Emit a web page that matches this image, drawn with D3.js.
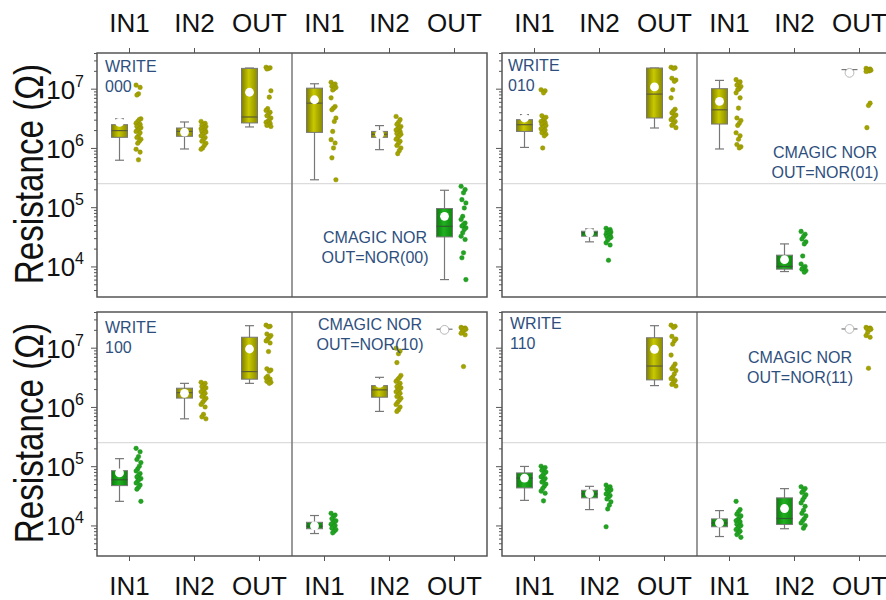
<!DOCTYPE html>
<html><head><meta charset="utf-8">
<script src="https://cdn.jsdelivr.net/npm/d3@7"></script>
<style>body{margin:0;background:#fff}svg{display:block}</style>
</head><body>
<svg id="c" width="886" height="600"></svg>
<script>
// ---------------- DATA ----------------
const categories = ["IN1", "IN2", "OUT"];
const threshold = 2.5e5;
const writeLabels = ["000", "010", "100", "110"];
const norLabels = ["00", "01", "10", "11"];
const yTicksMajor = [1e4, 1e5, 1e6, 1e7];
// box stats per category: [whiskerLow, q1, median, q3, whiskerHigh, mean]
const boxW000 = [[6.2e5,1.51e6,1.96e6,2.47e6,3.1e6,2.7e6],[9.6e5,1.57e6,1.9e6,2.17e6,2.74e6,1.85e6],[2.26e6,2.64e6,3.33e6,2.2e7,2.23e7,8.7e6]];
const boxN00  = [[2.9e5,1.83e6,5.7e6,1.02e7,1.21e7,6.5e6],[9.35e5,1.51e6,1.7e6,1.9e6,2.38e6,1.7e6],[6.0e3,3.15e4,4.75e4,9.5e4,1.93e5,7.0e4]];
const boxW010 = [[1.02e6,1.9e6,2.47e6,3.0e6,3.65e6,3.2e6],[2.6e4,3.24e4,3.7e4,3.93e4,4.3e4,3.7e4],[2.17e6,3.2e6,8.1e6,2.23e7,2.23e7,1.07e7]];
const boxN01  = [[9.6e5,2.53e6,4.4e6,1.0e7,1.38e7,6.1e6],[8.2e3,9.0e3,1.0e4,1.55e4,2.4e4,1.3e4],[2.1e7,2.1e7,2.1e7,2.1e7,2.1e7,1.85e7]];
const boxW100 = [[2.55e4,4.7e4,5.9e4,8.4e4,1.34e5,7.7e4],[6.3e5,1.41e6,1.74e6,2.07e6,2.5e6,1.7e6],[2.5e6,2.94e6,3.95e6,1.5e7,2.35e7,9.5e6]];
const boxN10  = [[7.3e3,8.8e3,9.7e3,1.13e4,1.47e4,9.8e3],[8.4e5,1.46e6,1.94e6,2.29e6,3.16e6,2.5e6],[2.05e7,2.05e7,2.05e7,2.05e7,2.05e7,2.0e7]];
const boxW110 = [[2.65e4,4.3e4,6.3e4,7.7e4,9.9e4,6.3e4],[1.85e4,2.92e4,3.4e4,3.92e4,4.57e4,3.44e4],[2.29e6,2.86e6,4.9e6,1.47e7,2.35e7,9.4e6]];
const boxN11  = [[6.5e3,9.5e3,1.1e4,1.29e4,1.78e4,1.1e4],[8.8e3,1.04e4,1.31e4,2.92e4,4.18e4,1.93e4],[2.07e7,2.07e7,2.07e7,2.07e7,2.07e7,2.07e7]];
// individual measurements per category
const ptsW000 = [
 [1.15e7,1.05e7,8.2e6,7.8e6,3.1e6,3.0e6,2.8e6,2.6e6,2.5e6,2.4e6,2.3e6,2.2e6,2.1e6,2.0e6,1.9e6,1.8e6,1.6e6,1.5e6,1.4e6,1.3e6,1.2e6,9.5e5,8.5e5,6.3e5],
 [2.8e6,2.6e6,2.5e6,2.4e6,2.3e6,2.2e6,2.15e6,2.1e6,2.0e6,1.95e6,1.9e6,1.85e6,1.8e6,1.7e6,1.6e6,1.5e6,1.4e6,1.3e6,1.2e6,1.1e6,1.0e6,9.5e5],
 [2.3e7,2.25e7,2.2e7,2.15e7,9.2e6,7.2e6,4.6e6,4.3e6,4.0e6,3.7e6,3.5e6,3.2e6,3.0e6,2.8e6,2.7e6,2.6e6,2.5e6,2.4e6,2.3e6]];
const ptsN00 = [
 [1.28e7,1.2e7,1.15e7,1.1e7,1.05e7,1.0e7,9.5e6,7.0e6,5.0e6,4.7e6,4.4e6,3.2e6,2.8e6,1.9e6,1.38e6,1.21e6,1.0e6,6.8e5,2.9e5],
 [3.4e6,3.0e6,2.7e6,2.5e6,2.3e6,2.2e6,2.1e6,2.0e6,1.9e6,1.8e6,1.75e6,1.7e6,1.6e6,1.5e6,1.4e6,1.3e6,1.2e6,1.1e6,1.0e6,9e5,8e5],
 [2.25e5,1.98e5,1.75e5,1.34e5,1.18e5,9.7e4,7.0e4,6.2e4,5.4e4,5.1e4,4.8e4,4.5e4,4.2e4,3.7e4,3.24e4,2.85e4,1.7e4,1.4e4,6.0e3]];
const ptsW010 = [
 [9.6e6,9.2e6,8.5e6,3.5e6,3.3e6,3.1e6,2.9e6,2.8e6,2.7e6,2.6e6,2.5e6,2.4e6,2.3e6,2.2e6,2.1e6,2.0e6,1.9e6,1.8e6,1.7e6,1.6e6,1.0e6],
 [4.4e4,4.2e4,4.0e4,3.9e4,3.8e4,3.7e4,3.6e4,3.5e4,3.4e4,3.3e4,3.2e4,3.1e4,3.0e4,2.8e4,2.5e4,2.3e4,1.27e4],
 [2.3e7,2.25e7,2.2e7,1.5e7,1.4e7,1.33e7,9.6e6,7.0e6,4.5e6,4.2e6,3.9e6,3.6e6,3.4e6,3.2e6,3.0e6,2.8e6,2.6e6,2.4e6,2.2e6]];
const ptsN01 = [
 [1.42e7,1.3e7,1.25e7,1.15e7,1.09e7,1.0e7,9.6e6,8.5e6,7.0e6,4.7e6,3.2e6,2.9e6,2.6e6,2.4e6,1.8e6,1.6e6,1.4e6,1.14e6,1.05e6,1.0e6],
 [3.9e4,3.5e4,3.2e4,2.9e4,2.6e4,2.4e4,1.5e4,1.1e4,1.0e4,9.5e3,9.0e3,8.5e3,8.0e3],
 [2.2e7,2.15e7,2.1e7,2.1e7,2.05e7,2.0e7,2.0e7,1.95e7,5.7e6,5.2e6,2.2e6]];
const ptsW100 = [
 [2.0e5,1.75e5,1.45e5,1.3e5,1.15e5,1.0e5,9e4,8.3e4,7.5e4,7.0e4,6.6e4,6.2e4,6.0e4,5.6e4,5.2e4,4.8e4,4.4e4,4.1e4,2.55e4],
 [2.6e6,2.5e6,2.3e6,2.2e6,2.1e6,2.0e6,1.9e6,1.8e6,1.7e6,1.6e6,1.5e6,1.4e6,1.3e6,1.2e6,1.1e6,1.0e6,7.5e5,6.8e5,6.3e5],
 [2.4e7,2.3e7,2.25e7,1.7e7,1.6e7,1.5e7,1.4e7,1.3e7,1.2e7,8.6e6,4.4e6,4.2e6,4.0e6,3.3e6,3.1e6,2.95e6,2.8e6,2.7e6,2.6e6,2.5e6]];
const ptsN10 = [
 [1.6e4,1.5e4,1.4e4,1.3e4,1.2e4,1.15e4,1.1e4,1.05e4,1.0e4,9.5e3,9.0e3,8.5e3,8.0e3,7.5e3],
 [9.8e6,8.8e6,7.9e6,5.6e6,3.4e6,3.1e6,2.9e6,2.7e6,2.5e6,2.3e6,2.2e6,2.1e6,2.0e6,1.9e6,1.8e6,1.7e6,1.6e6,1.5e6,1.4e6,1.3e6,1.2e6,1.1e6,1.0e6,9.0e5,8.4e5],
 [2.2e7,2.15e7,2.1e7,2.1e7,2.05e7,2.0e7,1.9e7,1.75e7,1.65e7,4.8e6]];
const ptsW110 = [
 [1.0e5,9.5e4,9.0e4,8.5e4,8.0e4,7.5e4,7.0e4,6.6e4,6.2e4,5.8e4,5.4e4,5.0e4,4.6e4,4.2e4,3.8e4,3.5e4,2.6e4],
 [4.8e4,4.5e4,4.3e4,4.1e4,4.0e4,3.8e4,3.6e4,3.4e4,3.2e4,3.0e4,2.8e4,2.5e4,2.2e4,1.9e4,9.5e3],
 [2.4e7,2.3e7,2.2e7,1.55e7,1.4e7,1.3e7,1.15e7,7.5e6,5.3e6,4.8e6,4.4e6,4.1e6,3.6e6,3.2e6,3.0e6,2.8e6,2.6e6,2.4e6,2.25e6]];
const ptsN11 = [
 [2.55e4,1.85e4,1.7e4,1.55e4,1.45e4,1.35e4,1.25e4,1.2e4,1.15e4,1.1e4,1.05e4,1.0e4,9.5e3,9.0e3,8.5e3,8.0e3,7.5e3,7.0e3,6.3e3],
 [4.5e4,4.2e4,3.9e4,3.6e4,3.3e4,3.0e4,2.7e4,2.4e4,2.1e4,1.8e4,1.6e4,1.45e4,1.3e4,1.2e4,1.1e4,1.0e4,9.0e3],
 [2.2e7,2.15e7,2.1e7,2.1e7,2.05e7,2.0e7,1.8e7,1.6e7,1.5e7,4.5e6]];

// ---------------- LAYOUT ----------------
const W = 886, H = 600;
const subW = 195, grpH = 244;
const groups = [
  {x: 97,  y: 53,  row: 0, left: true,  write: 0, boxes: [boxW000, boxN00], pts: [ptsW000, ptsN00],
   ann: [{x: 8, y: 19, a: "start"}, {x: 278, y: 190, a: "middle"}]},
  {x: 502, y: 53,  row: 0, left: false, write: 1, boxes: [boxW010, boxN01], pts: [ptsW010, ptsN01],
   ann: [{x: 6, y: 18, a: "start"}, {x: 323, y: 105, a: "middle"}]},
  {x: 97,  y: 312, row: 1, left: true,  write: 2, boxes: [boxW100, boxN10], pts: [ptsW100, ptsN10],
   ann: [{x: 8, y: 21, a: "start"}, {x: 273, y: 18, a: "middle"}]},
  {x: 502, y: 312, row: 1, left: false, write: 3, boxes: [boxW110, boxN11], pts: [ptsW110, ptsN11],
   ann: [{x: 8, y: 17, a: "start"}, {x: 298, y: 51, a: "middle"}]}
];
const FONT = "'Liberation Sans', Arial, Helvetica, sans-serif";
const olive = {fill: "url(#gOlive)", dot: "#a3a300", dotStroke: "#8a8a00", med: "#5e5e30"};
const green = {fill: "url(#gGreen)", dot: "#22a322", dotStroke: "#168a16", med: "#2e5e2e"};

const svg = d3.select("#c");
svg.append("rect").attr("width", W).attr("height", H).attr("fill", "#fff");
const defs = svg.append("defs");
function grad(id, stops) {
  const g = defs.append("linearGradient").attr("id", id).attr("x1", "0%").attr("x2", "100%").attr("y1", "0%").attr("y2", "0%");
  stops.forEach(s => g.append("stop").attr("offset", s[0]).attr("stop-color", s[1]));
}
grad("gOlive", [["0%", "#7e7e00"], ["45%", "#c9c900"], ["100%", "#898900"]]);
grad("gGreen", [["0%", "#0a7f0a"], ["45%", "#21b021"], ["100%", "#0d880d"]]);

const y = d3.scaleLog().domain([3.05e3, 4.0e7]).range([grpH, 0]);
const x = d3.scaleBand().domain(categories).range([0, subW]).padding(0);
const allTicks = y.ticks();
const minorTicks = allTicks.filter(v => !yTicksMajor.includes(v));

groups.forEach(g => {
  const G = svg.append("g").attr("transform", `translate(${g.x},${g.y})`);
  // threshold line
  G.append("line").attr("x1", 0).attr("x2", 2 * subW).attr("y1", y(threshold)).attr("y2", y(threshold))
    .attr("stroke", "#dcdcdc").attr("stroke-width", 1.3);

  // y axis ticks (outward)
  const minorAx = G.append("g").call(d3.axisLeft(y).tickValues(minorTicks).tickSize(3).tickFormat(""));
  const majorAx = G.append("g").call(d3.axisLeft(y).tickValues(yTicksMajor).tickSize(6).tickFormat(""));
  [minorAx, majorAx].forEach(a => { a.select(".domain").remove(); a.selectAll("line").attr("stroke", "#555"); });
  if (g.left) {
    yTicksMajor.forEach(v => {
      const t = G.append("text").attr("x", -13).attr("y", y(v) + 10).attr("text-anchor", "end")
        .attr("font-family", FONT).attr("font-size", 26).attr("fill", "#111");
      t.append("tspan").text("10");
      t.append("tspan").attr("dy", -12).attr("font-size", 16).text(String(Math.round(Math.log10(v))));
    });
  }

  for (let s = 0; s < 2; s++) {
    const S = G.append("g").attr("transform", `translate(${s * subW},0)`);
    // x axis ticks & labels
    const xAx = g.row === 0 ? d3.axisTop(x).tickSize(5) : d3.axisBottom(x).tickSize(5);
    const ax = S.append("g").attr("transform", g.row === 0 ? "translate(0,0)" : `translate(0,${grpH})`)
      .call(xAx.tickFormat(""));
    ax.select(".domain").remove();
    ax.selectAll("line").attr("stroke", "#555");
    categories.forEach(c => {
      S.append("text").attr("x", x(c) + x.bandwidth() / 2)
        .attr("y", g.row === 0 ? 32 - g.y : grpH + 595 - (g.y + grpH))
        .attr("text-anchor", "middle").attr("font-family", FONT).attr("font-size", 26).attr("fill", "#111").text(c);
    });

    const boxes = g.boxes[s], pts = g.pts[s];
    categories.forEach((c, ci) => {
      const tick = x(c) + x.bandwidth() / 2;
      const bx = tick - 10, px = tick + 9;
      const [lo, q1, med, q3, hi, mean] = boxes[ci];
      const col = med > threshold ? olive : green;
      // whiskers
      S.append("line").attr("x1", bx).attr("x2", bx).attr("y1", y(hi)).attr("y2", y(lo)).attr("stroke", "#777").attr("stroke-width", 1.2);
      [hi, lo].forEach(v => S.append("line").attr("x1", bx - 4.5).attr("x2", bx + 4.5).attr("y1", y(v)).attr("y2", y(v))
        .attr("stroke", "#777").attr("stroke-width", 1.2));
      // box
      S.append("rect").attr("x", bx - 8).attr("width", 16).attr("y", y(q3)).attr("height", Math.max(0, y(q1) - y(q3)))
        .attr("fill", col.fill).attr("stroke", "#777").attr("stroke-width", 1);
      S.append("line").attr("x1", bx - 8).attr("x2", bx + 8).attr("y1", y(med)).attr("y2", y(med))
        .attr("stroke", q1 === q3 ? "#777" : col.med).attr("stroke-width", 1.2);
      // mean
      S.append("circle").attr("cx", bx).attr("cy", y(mean)).attr("r", 4.4)
        .attr("fill", "#fff").attr("stroke", q1 === q3 ? "#999" : "none").attr("stroke-width", 0.7);
      // points
      S.selectAll(null).data(pts[ci]).join("circle")
        .attr("cx", (d, i) => px + (((i * 5) % 7) - 3) * 0.8)
        .attr("cy", d => y(d)).attr("r", 2.3)
        .attr("fill", d => d > threshold ? olive.dot : green.dot)
        .attr("stroke", d => d > threshold ? olive.dotStroke : green.dotStroke).attr("stroke-width", 0.4);
    });

    // annotations
    const an = g.ann[s];
    const lines = s === 0 ? ["WRITE", writeLabels[g.write]] : ["CMAGIC NOR", `OUT=NOR(${norLabels[g.write]})`];
    lines.forEach((t, li) => {
      S.append("text").attr("x", an.x - s * subW).attr("y", an.y + li * 20).attr("text-anchor", an.a)
        .attr("font-family", FONT).attr("font-size", 16).attr("fill", "#2e4f7e").text(t);
    });
  }
  // divider & frame
  G.append("line").attr("x1", subW).attr("x2", subW).attr("y1", 0).attr("y2", grpH).attr("stroke", "#808080").attr("stroke-width", 1.6);
  G.append("rect").attr("x", 0).attr("y", 0).attr("width", 2 * subW).attr("height", grpH)
    .attr("fill", "none").attr("stroke", "#555").attr("stroke-width", 1.5);
});

// y titles
[174, 433].forEach(cy => {
  svg.append("text").attr("transform", `translate(43,${cy}) rotate(-90) scale(0.83,1)`)
    .attr("text-anchor", "middle").attr("font-family", FONT).attr("font-size", 40).attr("fill", "#111")
    .text("Resistance (Ω)");
});
</script>
</body></html>
